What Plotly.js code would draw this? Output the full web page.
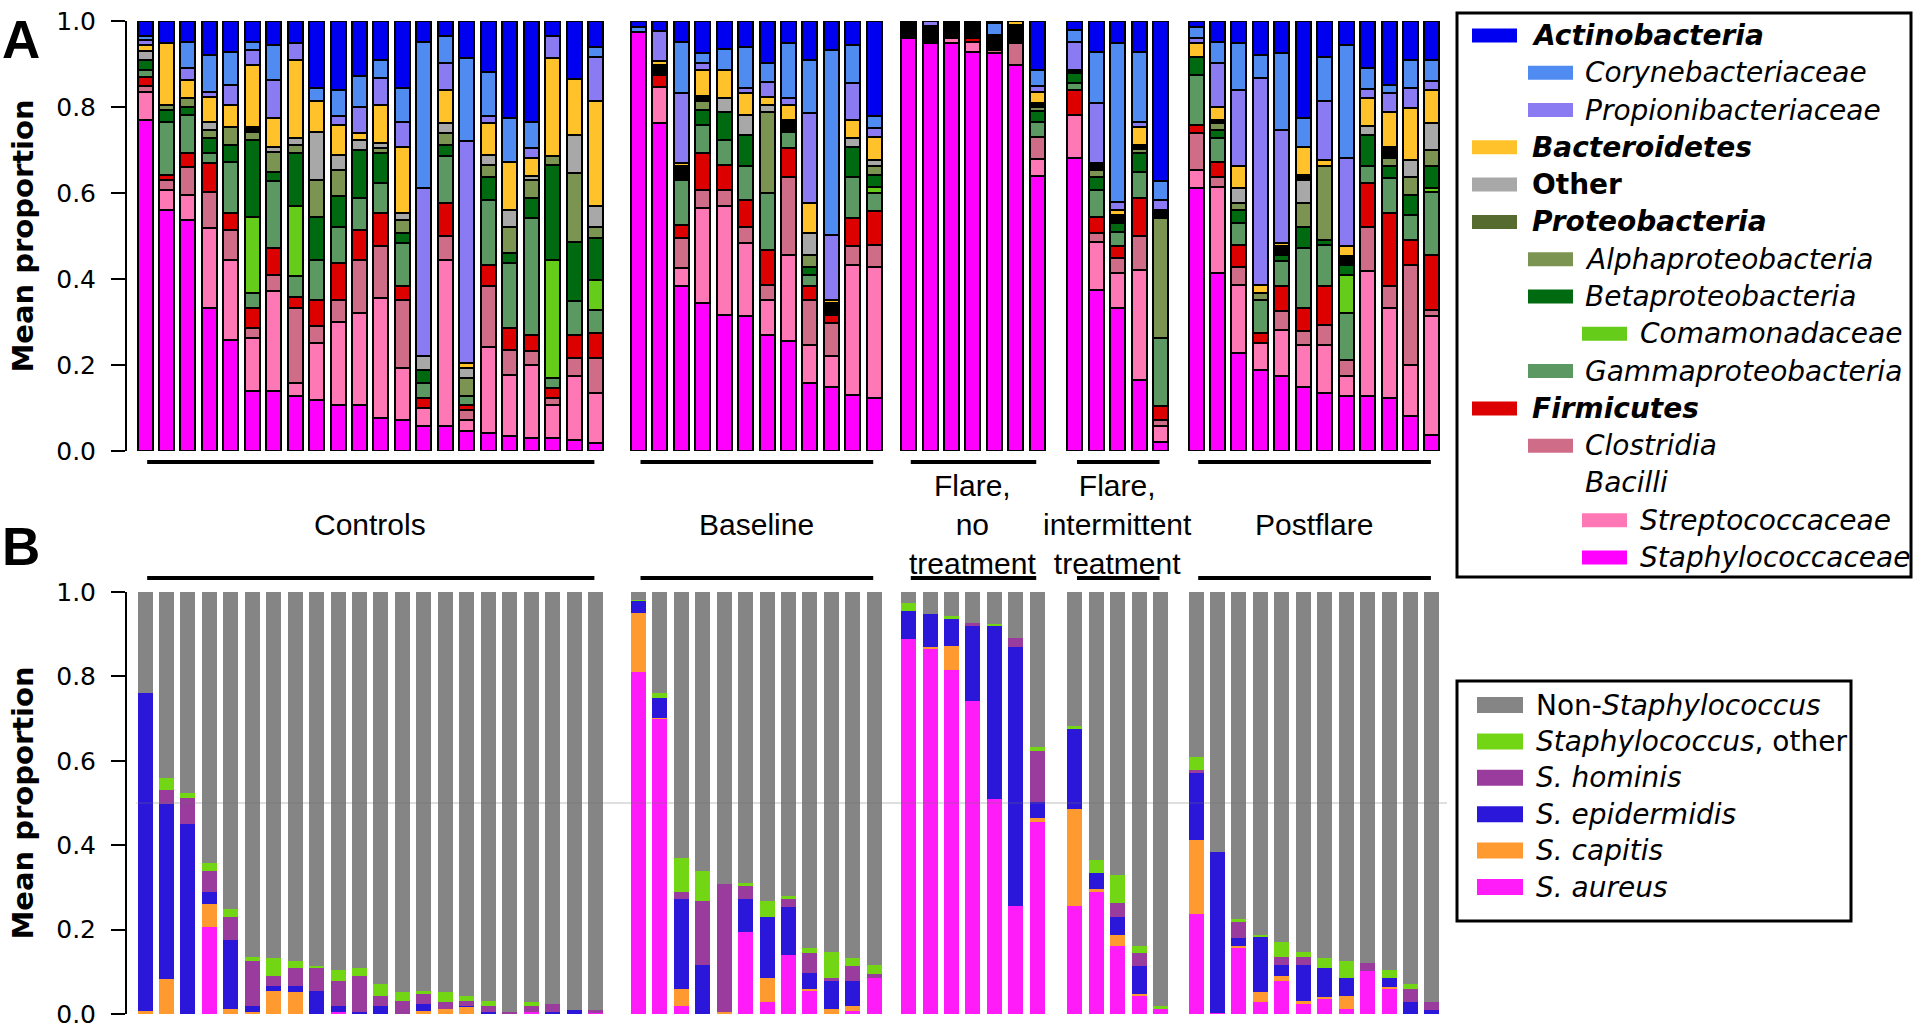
<!DOCTYPE html>
<html><head><meta charset="utf-8">
<script src="https://cdn.plot.ly/plotly-3.0.1.min.js"></script>
<style>html,body{margin:0;padding:0;background:#fff}#chart{width:1915px;height:1029px}</style>
</head><body><div id="chart"></div>
<script>
// ---------------- DATA ----------------
const groups = ['Controls','Baseline','Flare, no treatment','Flare, intermittent treatment','Postflare'];
const groupLabels = ['Controls','Baseline','Flare,<br>no<br>treatment','Flare,<br>intermittent<br>treatment','Postflare'];
const groupSizes = [22,12,7,5,12];
const yTicks = [0,0.2,0.4,0.6,0.8,1.0];
const yTickText = ['0.0','0.2','0.4','0.6','0.8','1.0'];

// Panel A: mean proportion of taxa per sample (bottom -> top of stack)
const staphylococcaceae = [
 0.77,0.56,0.538,0.332,0.259,0.139,0.139,0.127,0.119,0.108,0.108,0.077,0.073,0.057,0.057,0.046,0.042,0.034,0.03,0.03,0.026,0.019,
 0.975,0.762,0.383,0.344,0.317,0.313,0.27,0.255,0.158,0.15,0.131,0.123,
 0.96,0.948,0.948,0.929,0.925,0.898,0.64,
 0.681,0.375,0.332,0.166,0.022,
 0.611,0.414,0.228,0.189,0.174,0.15,0.135,0.127,0.127,0.123,0.081,0.038];
const streptococcaceae = [
 .065,.046,.058,.186,.186,.124,.232,.031,.132,.193,.213,.279,.12,.043,.388,.027,.201,.143,.171,.078,.148,.116,
 0,.085,.042,.221,.252,.17,.082,.201,.089,.07,.302,.306,
 0,0,.012,.023,0,0,.04,
 .101,.112,.082,.255,.035,
 .043,.201,.159,.062,.108,.097,.112,.047,.291,.209,.12,.275];
const clostridia = [
 .015,.024,.065,.085,.069,.023,.039,.174,.039,.051,.124,.12,.159,0,.054,.023,.14,.058,.031,.015,.042,.081,
 0,0,.07,.042,.038,.039,.035,.182,.105,.077,.043,.05,
 0,0,0,0,.008,.05,.05,
 0,.02,.034,.078,.016,
 .085,.023,.042,0,.043,.031,.047,.038,.104,.051,.232,.015];
const firmicutes = [
 .02,.012,.032,.066,.039,.046,.062,.027,.062,.085,.069,.077,.031,.023,.077,.012,.05,.051,.038,.023,.054,.058,
 0,.028,.031,.086,.058,.062,.081,.066,.031,.02,.065,.078,
 0,0,0,.008,0,0,0,
 .058,.038,.028,.089,.031,
 .019,.035,.05,.023,.058,.054,.089,0,.101,.17,.058,.128];
const gammaproteobacteria = [
 .015,.124,.089,.023,.12,.035,.155,.047,.093,.085,.074,.07,.1,.035,.109,.019,.151,.151,.271,.024,.078,.054,
 0,0,.105,.065,.058,.078,.132,.039,.027,0,.097,.043,
 0,0,0,0,0,0,.035,
 .015,.062,.034,.062,.159,
 .117,.054,.051,.078,.058,.14,.096,.108,.039,.081,.058,.147];
const comamonadaceae = [
 0,0,0,0,0,.178,0,.163,0,0,0,0,0,0,0,0,0,0,0,.275,0,.07,
 0,0,0,0,0,0,0,0,0,0,0,.015,
 0,0,0,0,0,0,0,
 0,0,0,0,0,
 0,0,0,0,0,0,0,.09,0,0,0,.008];
const betaproteobacteria = [
 .025,.027,.019,.035,.039,.178,.023,.123,.1,.07,.112,.069,.024,.031,.027,0,.054,.023,.047,.22,.139,.097,
 0,0,0,.035,.066,.073,0,0,.019,0,.07,.027,
 0,0,0,0,0,0,.025,
 .023,.031,.02,.042,0,
 .042,.02,.031,0,.015,.05,.012,.023,.073,.028,.047,.051];
const alphaproteobacteria = [
 0,.012,.019,.02,.042,.02,.046,.02,.086,.062,0,.012,.031,0,.027,.043,.027,.062,.043,.02,.16,.027,
 0,0,0,.02,0,0,.189,0,.027,0,0,.02,
 0,0,0,0,0,0,.01,
 0,.015,0,.01,.278,
 0,.015,.015,.015,0,.054,.171,0,0,.019,.042,.038];
const proteobacteria = [
 0,0,0,0,0,0,0,0,0,0,0,0,0,0,0,0,0,0,0,0,0,0,
 0,0,0,0,0,0,0,0,0,0,0,0,
 0,0,0,0,0,0,0,
 0,0,0,0,0,
 0,0,0,0,0,0,0,0,0,0,0,0];
const otherTaxa = [
 .02,0,0,.019,0,0,.012,.015,.112,.035,.023,.012,.015,.031,.023,.023,.024,.039,.008,0,.088,.047,
 0,0,0,0,.031,.047,.016,0,.051,0,.019,.015,
 0,0,0,0,0,0,0,
 0,0,0,0,0,
 0,0,.035,0,0,.054,0,0,.02,0,.039,.062];
const unassigned = [
 0,0,0,0,0,.011,0,0,0,0,0,0,0,0,0,0,0,0,0,0,0,0,
 0,.023,.031,.012,0,0,0,.027,0,.027,0,0,
 .04,.04,.04,.04,.035,.042,.01,
 .008,.016,.019,.01,.02,
 0,.008,0,0,.02,.012,0,.02,0,.027,0,0];
const bacteroidetes = [
 .015,.145,.043,.058,.051,.144,.066,.182,.07,.069,.016,.089,.155,0,.078,.011,.073,.112,.042,.228,.13,.244,
 0,.008,.008,.061,.066,.05,.019,.035,.069,.008,.043,.054,
 0,0,0,0,0,.01,.025,
 0,0,.012,.042,0,
 .031,.031,.051,.02,.008,.066,.015,.024,.066,.081,.12,.078];
const propionibacteriaceae = [
 .01,0,.027,.012,.046,.035,.089,.039,0,.02,.062,.062,.058,.391,.062,.516,.016,0,.023,.051,0,.104,
 0,.07,.162,.016,0,.012,.035,.015,.209,.151,.085,.02,
 0,.012,0,0,0,0,.015,
 .066,.14,.019,.012,.023,
 .012,.101,.178,.48,.263,0,.136,.205,.02,.043,.047,.02];
const corynebacteriaceae = [
 .01,0,.062,.085,.078,.019,.081,0,.031,.062,.07,.042,.078,.341,.062,.193,.104,.101,.062,0,0,.023,
 .01,0,.12,.023,.05,.096,.043,.128,.124,.43,.089,.027,
 0,0,0,0,.027,0,.035,
 .027,.12,.368,.163,.043,
 .027,.05,.108,.054,.178,.066,.104,.263,.05,.019,.065,.049];
const actinobacteria = [
 .035,.05,.048,.079,.071,.048,.056,.052,.156,.16,.129,.091,.156,.048,.036,.087,.118,.226,.234,.036,.135,.06,
 .015,.024,.048,.075,.064,.06,.098,.052,.091,.067,.056,.222,
 0,0,0,0,.005,0,.115,
 .021,.071,.052,.071,.373,
 .013,.048,.052,.079,.075,.226,.083,.056,.11,.149,.091,.091];

// Panel B: Staphylococcus species proportions (bottom -> top)
const sAureus = [
 0,0,0,.206,0,0,0,0,0,.005,0,0,0,0,0,0,0,0,.005,0,0,.003,
 .811,.698,.02,0,0,.195,.028,.14,.055,0,.008,.086,
 .888,.865,.815,.741,.509,.257,.455,
 .257,.288,.16,.043,.012,
 .237,.002,.156,.028,.078,.024,.036,.012,.102,.059,0,0];
const sCapitis = [
 .008,.082,0,.054,.012,.005,.055,.051,0,0,0,0,0,.008,.012,.016,0,0,0,0,0,0,
 .139,.004,.039,0,.005,0,.058,0,.004,.012,.012,0,
 0,.004,.058,0,0,0,.01,
 .228,.008,.027,.004,0,
 .175,0,.004,.023,.012,.008,.004,.031,0,.004,0,0];
const sEpidermidis = [
 .752,.415,.45,.028,.163,.015,.012,.016,.055,.015,.005,.02,0,.016,0,.004,.005,0,0,.005,.009,0,
 .028,.047,.213,.117,0,.077,.143,.113,.039,.066,.058,0,
 .066,.078,.062,.178,.41,.612,.038,
 .19,.038,.042,.066,0,
 .159,.382,.019,.132,.027,.085,.069,.043,0,.023,.028,.009];
const sHominis = [
 0,.035,.062,.05,.054,.105,.023,.042,.054,.058,.085,.023,.032,.023,.016,.012,.015,.005,.015,.019,0,.006,
 0,0,.016,.151,.302,.031,0,.019,.046,.008,.035,.008,
 0,0,0,.008,0,.023,.12,
 0,0,.035,.031,0,
 .008,0,.039,0,.019,.019,0,0,.019,0,.031,.019];
const staphOther = [
 0,.027,.012,.019,.02,.011,.043,.016,.004,.027,.019,.028,.019,.008,.023,.011,.012,0,.008,0,0,0,
 .004,.011,.081,.07,0,.008,.039,.008,.012,.062,.02,.023,
 .019,0,.008,0,.004,0,.01,
 .008,.031,.066,.016,.008,
 .03,0,.008,.004,.035,.012,.024,.039,0,.019,.012,0];
const nonStaph = [
 .24,.441,.476,.643,.751,.864,.867,.875,.887,.895,.891,.929,.949,.945,.949,.957,.968,.995,.972,.976,.991,.991,
 .018,.24,.631,.662,.693,.689,.732,.72,.844,.852,.867,.883,
 .027,.053,.057,.073,.077,.108,.367,
 .317,.635,.67,.84,.98,
 .391,.616,.774,.813,.829,.852,.867,.875,.879,.895,.929,.972];

// ---------------- STYLE ----------------
const FONT = 'DejaVu Sans, Verdana, sans-serif';
const SANS = 'Liberation Sans, Arial, Helvetica, sans-serif';
const W = 1915, H = 1029;
const px = v => v / W;
const py = v => 1 - v / H;

const seriesA = [
  ['Staphylococcaceae', staphylococcaceae, '#FF00FF'],
  ['Streptococcaceae', streptococcaceae, '#FF78B6'],
  ['Clostridia', clostridia, '#CF6C88'],
  ['Firmicutes', firmicutes, '#DD0000'],
  ['Gammaproteobacteria', gammaproteobacteria, '#5C9862'],
  ['Comamonadaceae', comamonadaceae, '#66CC1A'],
  ['Betaproteobacteria', betaproteobacteria, '#006A10'],
  ['Alphaproteobacteria', alphaproteobacteria, '#7C9451'],
  ['Proteobacteria', proteobacteria, '#566B30'],
  ['Other', otherTaxa, '#A8A8A8'],
  ['Unassigned', unassigned, '#000000'],
  ['Bacteroidetes', bacteroidetes, '#FFC22A'],
  ['Propionibacteriaceae', propionibacteriaceae, '#8B7BF3'],
  ['Corynebacteriaceae', corynebacteriaceae, '#4F8BF0'],
  ['Actinobacteria', actinobacteria, '#0000F0']
];
const colorA = {}; seriesA.forEach(s => colorA[s[0]] = s[2]);

const seriesB = [
  ['S. aureus', sAureus, '#FF1CF8'],
  ['S. capitis', sCapitis, '#FF9A30'],
  ['S. epidermidis', sEpidermidis, '#2B17DA'],
  ['S. hominis', sHominis, '#9A3C9E'],
  ['Staphylococcus, other', staphOther, '#73D615'],
  ['Non-Staphylococcus', nonStaph, '#858585']
];

// x positions: groups separated by small extra gaps
const groupGap = [0, 1.0, 0.6, 0.75, 0.65];
const xpos = []; const groupStart = []; const groupEnd = [];
let cursor = 0;
groupSizes.forEach((n, g) => {
  cursor += groupGap[g];
  groupStart.push(cursor);
  for (let i = 0; i < n; i++) { xpos.push(cursor); cursor += 1; }
  groupEnd.push(cursor - 1);
});
const sampleGroup = []; groupSizes.forEach((n,g)=>{for(let i=0;i<n;i++) sampleGroup.push(groups[g]);});

const traces = [];
seriesA.forEach(([name, vals, col]) => {
  traces.push({type:'bar', x:xpos, y:vals, name, xaxis:'x', yaxis:'y', width:0.7,
    marker:{color:col, line:{color:'#000', width:2}}, showlegend:false,
    customdata: sampleGroup, hovertemplate: name+'<br>%{customdata}: %{y:.3f}<extra></extra>'});
});
seriesB.forEach(([name, vals, col]) => {
  traces.push({type:'bar', x:xpos, y:vals, name, xaxis:'x2', yaxis:'y2', width:0.7,
    marker:{color:col, line:{width:0}}, showlegend:false,
    customdata: sampleGroup, hovertemplate: name+'<br>%{customdata}: %{y:.3f}<extra></extra>'});
});

const xr = [-0.84, 60.84];
const xdom = [px(127), px(1450)];
const yAxisCommon = {
  range:[0,1], showline:true, linecolor:'#000', linewidth:2, ticks:'outside', ticklen:14,
  tickwidth:2, tickcolor:'#000', tickvals:yTicks, ticktext:yTickText, showgrid:false, zeroline:false,
  tickfont:{family:FONT, size:25, color:'#000'}, ticklabelstandoff:10, ticklabeloverflow:'allow', fixedrange:true,
  title:{text:'<b>Mean proportion</b>', font:{family:FONT, size:29, color:'#000'}, standoff:14}
};

const shapes = [];
const annotations = [];
// group bars & labels
groups.forEach((g, i) => {
  const x0 = groupStart[i] + 0.1, x1 = groupEnd[i] - 0.05;
  [462, 578].forEach(yy => shapes.push({type:'line', xref:'x', yref:'paper', x0, x1, y0:py(yy), y1:py(yy), line:{color:'#000', width:4}}));
  annotations.push({xref:'x', yref:'paper', x:(groupStart[i]+groupEnd[i])/2, y:py(524), text:groupLabels[i],
    showarrow:false, xanchor:'center', yanchor:'middle', align:'center', font:{family:SANS, size:30, color:'#000'}});
});
// panel B 0.5 reference line
shapes.push({type:'line', xref:'x2', yref:'y2', x0:-0.4, x1:60.7, y0:0.5, y1:0.5, layer:'above', line:{color:'rgba(110,110,110,0.45)', width:1}});

// panel letters
annotations.push({xref:'paper', yref:'paper', x:0, y:py(40), xanchor:'left', yanchor:'middle', text:'<b>A</b>', showarrow:false, font:{family:SANS, size:53, color:'#000'}});
annotations.push({xref:'paper', yref:'paper', x:0, y:py(546), xanchor:'left', yanchor:'middle', text:'<b>B</b>', showarrow:false, font:{family:SANS, size:53, color:'#000'}});

// Legend A (hierarchical)
const legendA = [
  ['Actinobacteria',0,'bi'], ['Corynebacteriaceae',1,'i'], ['Propionibacteriaceae',1,'i'],
  ['Bacteroidetes',0,'bi'], ['Other',0,'b'], ['Proteobacteria',0,'bi'],
  ['Alphaproteobacteria',1,'i'], ['Betaproteobacteria',1,'i'], ['Comamonadaceae',2,'i'],
  ['Gammaproteobacteria',1,'i'], ['Firmicutes',0,'bi'], ['Clostridia',1,'i'], ['Bacilli',1,'i'],
  ['Streptococcaceae',2,'i'], ['Staphylococcaceae',2,'i']
];
const swX = [[1472,1517],[1528,1573],[1582,1627]];
const txX = [1530,1583,1638];
shapes.push({type:'rect', xref:'paper', yref:'paper', x0:px(1457), x1:px(1911), y0:py(13), y1:py(577), line:{color:'#000', width:3}, fillcolor:'rgba(0,0,0,0)'});
legendA.forEach(([name, lvl, st], k) => {
  const yc = 35.4 + 37.3*k;
  if (colorA[name] && name !== 'Bacilli') {
    shapes.push({type:'rect', xref:'paper', yref:'paper', x0:px(swX[lvl][0]), x1:px(swX[lvl][1]), y0:py(yc-7), y1:py(yc+7), line:{width:0}, fillcolor:colorA[name]});
  }
  let t = name;
  if (st.includes('i')) t = '<i>'+t+'</i>';
  if (st.includes('b')) t = '<b>'+t+'</b>';
  annotations.push({xref:'paper', yref:'paper', x:px(txX[lvl]), y:py(yc), xanchor:'left', yanchor:'middle', text:t, showarrow:false, font:{family:FONT, size:28, color:'#000'}});
});

// Legend B
const legendB = [
  ['Non-Staphylococcus','Non-<i>Staphylococcus</i>'],
  ['Staphylococcus, other','<i>Staphylococcus</i>, other'],
  ['S. hominis','<i>S. hominis</i>'],
  ['S. epidermidis','<i>S. epidermidis</i>'],
  ['S. capitis','<i>S. capitis</i>'],
  ['S. aureus','<i>S. aureus</i>']
];
const colorB = {}; seriesB.forEach(s => colorB[s[0]] = s[2]);
shapes.push({type:'rect', xref:'paper', yref:'paper', x0:px(1457), x1:px(1851), y0:py(681), y1:py(921), line:{color:'#000', width:3}, fillcolor:'rgba(0,0,0,0)'});
legendB.forEach(([key, t], k) => {
  const yc = 705 + 36.4*k;
  shapes.push({type:'rect', xref:'paper', yref:'paper', x0:px(1477), x1:px(1523), y0:py(yc-8), y1:py(yc+8), line:{width:0}, fillcolor:colorB[key]});
  annotations.push({xref:'paper', yref:'paper', x:px(1534), y:py(yc), xanchor:'left', yanchor:'middle', text:t, showarrow:false, font:{family:FONT, size:28, color:'#000'}});
});

const layout = {
  width:W, height:H, margin:{l:0,r:0,t:0,b:0}, paper_bgcolor:'#fff', plot_bgcolor:'rgba(0,0,0,0)',
  barmode:'stack', showlegend:false, font:{family:FONT, color:'#000'},
  xaxis:{domain:xdom, range:xr, visible:false, fixedrange:true, anchor:'y'},
  xaxis2:{domain:xdom, range:xr, visible:false, fixedrange:true, anchor:'y2'},
  yaxis:Object.assign({}, yAxisCommon, {domain:[py(451), py(21)], anchor:'x'}),
  yaxis2:Object.assign({}, yAxisCommon, {domain:[py(1014), py(592)], anchor:'x2'}),
  shapes, annotations
};
Plotly.newPlot('chart', traces, layout, {displayModeBar:false, staticPlot:true});
</script>
</body></html>
